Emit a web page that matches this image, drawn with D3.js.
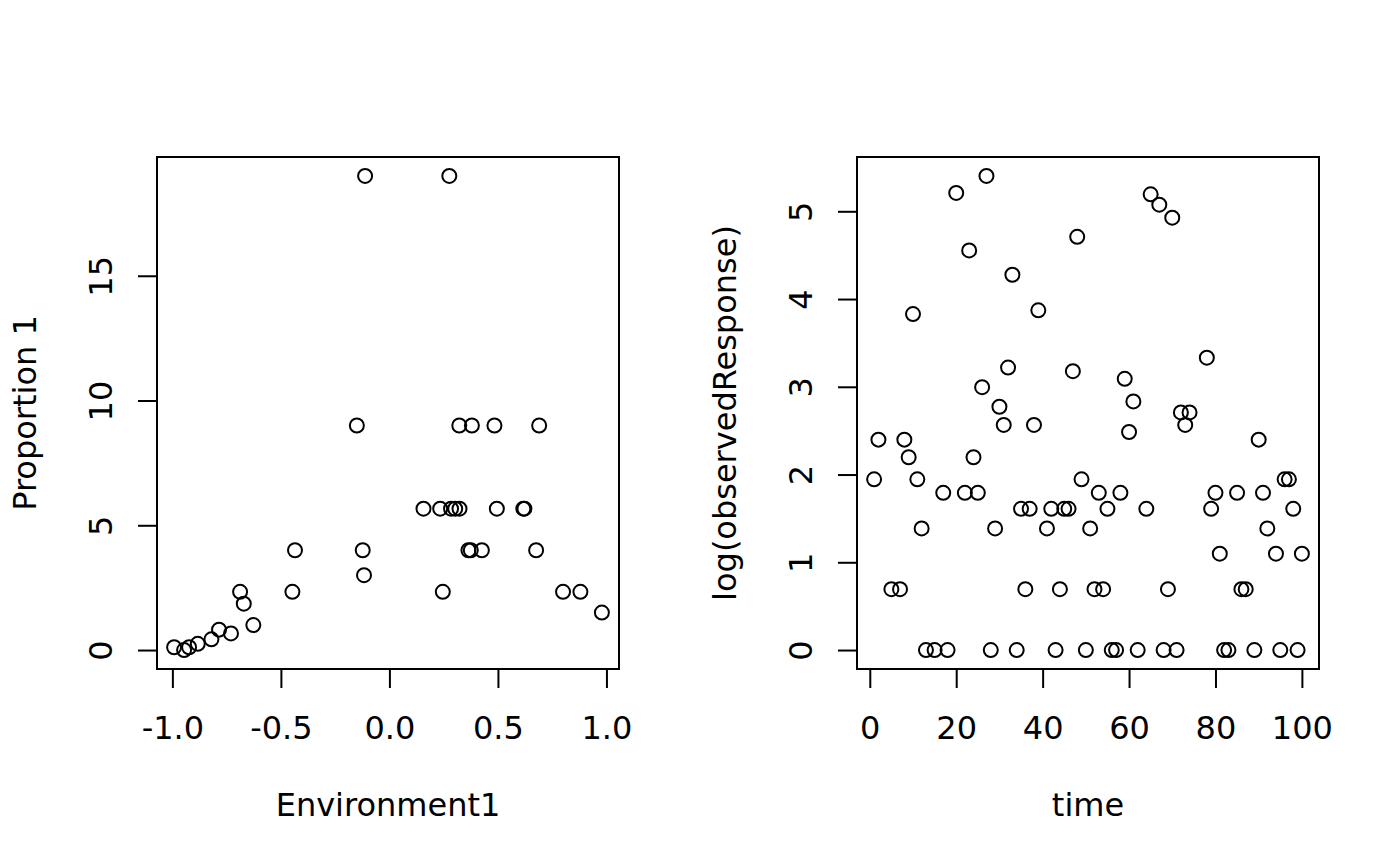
<!DOCTYPE html>
<html lang="en">
<head>
<meta charset="utf-8">
<title>Environment1 / time scatter</title>
<script src="https://d3js.org/d3.v7.min.js"></script>
<style>
  body { margin: 0; background: #fff; }
  svg { display: block; }
  text { font-family: "DejaVu Sans", sans-serif; font-size: 32px; fill: #000; }
  .box { fill: none; stroke: #000; stroke-width: 2px; }
  .pt { fill: none; stroke: #000; stroke-width: 2px; }
  .tick line { stroke: #000; stroke-width: 2px; }
</style>
</head>
<body>
<svg width="1400" height="866"></svg>
<script>
// left panel: Environment1 vs Proportion 1
var env1 = [-0.150, -0.435, -0.123, -0.117, -0.447, -0.688, -0.671, -0.627, -0.785, -0.730,
            -0.820, -0.883, -0.923, -0.992, -0.946, -0.112, 0.276, 0.322, 0.380, 0.484,
             0.690, 0.157, 0.234, 0.284, 0.303, 0.323, 0.495, 0.617, 0.622, 0.364,
             0.375, 0.426, 0.676, 0.246, 0.800, 0.880, 0.979];
var prop1 = [9, 4, 4, 3, 2.333, 2.333, 1.857, 1, 0.818, 0.667,
             0.429, 0.25, 0.111, 0.111, 0, 19, 19, 9, 9, 9,
             9, 5.667, 5.667, 5.667, 5.667, 5.667, 5.667, 5.667, 5.667, 4,
             4, 4, 4, 2.333, 2.333, 2.333, 1.5];

// right panel: time vs log(observedResponse); zero counts give -Inf and are not drawn
var time = [1, 2, 3, 4, 5, 6, 7, 8, 9, 10, 11, 12, 13, 14, 15, 16, 17, 18, 19, 20,
            21, 22, 23, 24, 25, 26, 27, 28, 29, 30, 31, 32, 33, 34, 35, 36, 37, 38, 39, 40,
            41, 42, 43, 44, 45, 46, 47, 48, 49, 50, 51, 52, 53, 54, 55, 56, 57, 58, 59, 60,
            61, 62, 63, 64, 65, 66, 67, 68, 69, 70, 71, 72, 73, 74, 75, 76, 77, 78, 79, 80,
            81, 82, 83, 84, 85, 86, 87, 88, 89, 90, 91, 92, 93, 94, 95, 96, 97, 98, 99, 100];
var observedResponse = [7, 11, 0, 0, 2, 0, 2, 11, 9, 46, 7, 4, 1, 0, 1, 0, 6, 1, 0, 183,
                        0, 6, 95, 9, 6, 20, 222, 1, 4, 16, 13, 25, 72, 1, 5, 2, 5, 13, 48, 0,
                        4, 5, 1, 2, 5, 5, 24, 111, 7, 1, 4, 2, 6, 2, 5, 1, 1, 6, 22, 12,
                        17, 1, 0, 5, 180, 0, 160, 1, 2, 138, 1, 15, 13, 15, 0, 0, 0, 28, 5, 6,
                        3, 1, 1, 0, 6, 2, 2, 0, 1, 11, 6, 4, 0, 3, 1, 7, 7, 5, 1, 3];

var envTicks = [-1, -0.5, 0, 0.5, 1];
var propTicks = [0, 5, 10, 15];
var timeTicks = [0, 20, 40, 60, 80, 100];
var logTicks = [0, 1, 2, 3, 4, 5];

var svg = d3.select("svg");
svg.append("rect").attr("width", 1400).attr("height", 866).attr("fill", "#fff");

// R pads axis ranges by 4% on each side
function rRange(vals) {
  var e = d3.extent(vals), d = (e[1] - e[0]) * 0.04;
  return [e[0] - d, e[1] + d];
}

function drawPanel(o) {
  var x = d3.scaleLinear().domain(rRange(o.xs)).range([o.left, o.left + 462]),
      y = d3.scaleLinear().domain(rRange(o.ys)).range([669, 157]);

  var g = svg.append("g");

  var ax = g.append("g")
      .attr("transform", "translate(0,669)")
      .call(d3.axisBottom(x).tickValues(o.xTicks).tickFormat(o.xFmt).tickSizeInner(19).tickSizeOuter(0));
  ax.select(".domain").remove();
  ax.selectAll("text").attr("y", 70).attr("dy", null)
      .style("font-size", null).style("font-family", null).attr("font-size", null).attr("font-family", null);

  var ay = g.append("g")
      .attr("transform", "translate(" + o.left + ",0)")
      .call(d3.axisLeft(y).tickValues(o.yTicks).tickFormat(d3.format("d")).tickSizeInner(19).tickSizeOuter(0));
  ay.select(".domain").remove();
  ay.selectAll("text")
      .attr("x", null).attr("dy", null)
      .attr("text-anchor", "middle")
      .attr("transform", "translate(-45,0) rotate(-90)");
  g.selectAll(".tick text").attr("fill", "#000");
  g.selectAll("g").attr("font-size", null).attr("font-family", null);

  g.append("rect").attr("class", "box")
      .attr("x", o.left).attr("y", 157).attr("width", 462).attr("height", 512);

  g.selectAll("circle.pt")
    .data(d3.zip(o.xs, o.ys))
    .enter().append("circle")
      .attr("class", "pt")
      .attr("cx", function(d) { return x(d[0]); })
      .attr("cy", function(d) { return y(d[1]); })
      .attr("r", 7);

  g.append("text")
      .attr("x", o.left + 231).attr("y", 816)
      .attr("text-anchor", "middle")
      .text(o.xLab);

  g.append("text")
      .attr("text-anchor", "middle")
      .attr("transform", "translate(" + (o.left - 121) + ",413) rotate(-90)")
      .text(o.yLab);
}

drawPanel({
  left: 157, xs: env1, ys: prop1,
  xTicks: envTicks, yTicks: propTicks,
  xFmt: function(d) { return d.toFixed(1); },
  xLab: "Environment1", yLab: "Proportion 1"
});

// keep only finite log values, as R drops -Inf
var pts = time.map(function(t, i) { return [t, Math.log(observedResponse[i])]; })
              .filter(function(d) { return isFinite(d[1]); });

drawPanel({
  left: 857, xs: pts.map(function(d) { return d[0]; }), ys: pts.map(function(d) { return d[1]; }),
  xTicks: timeTicks, yTicks: logTicks,
  xFmt: d3.format("d"),
  xLab: "time", yLab: "log(observedResponse)"
});
</script>
</body>
</html>
